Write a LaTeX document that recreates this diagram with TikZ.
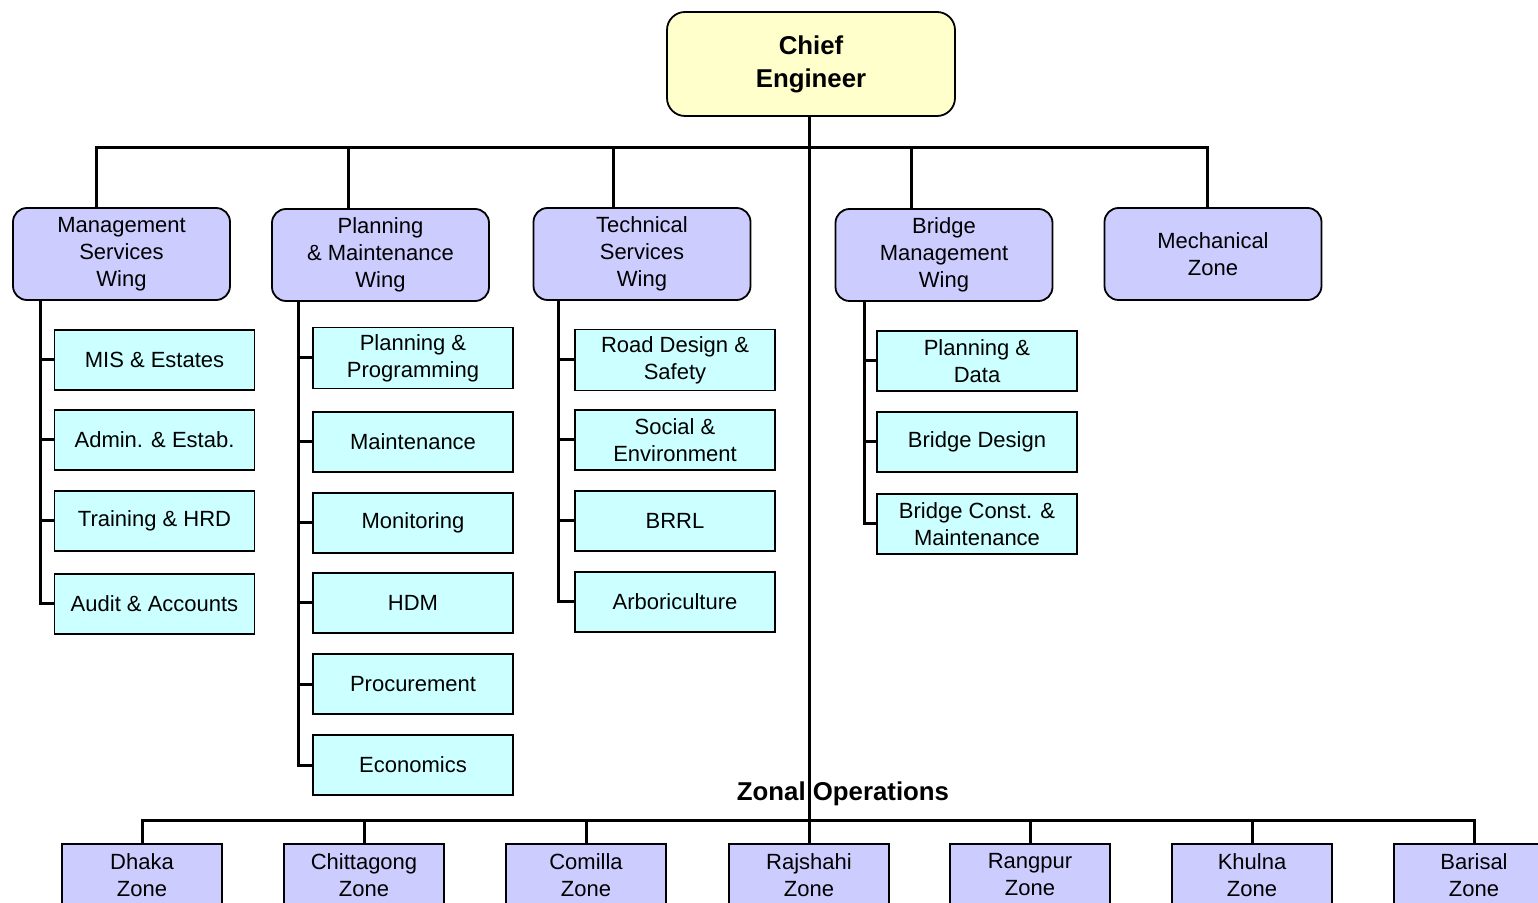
\documentclass[tikz,border=0pt]{standalone}
\usepackage{fontspec}
\setmainfont{Liberation Sans}
\usepackage{xcolor}
\usetikzlibrary{positioning, calc}

\definecolor{chieffill}{HTML}{FFFFCC}
\definecolor{wingfill}{HTML}{CCCCFF}
\definecolor{unitfill}{HTML}{CCFFFF}

\begin{document}
\begin{tikzpicture}[
  x = 0.5pt, y = -0.5pt,
  chief/.style = {draw=black, line width=0.9pt, rounded corners=9pt,
                  fill=chieffill, minimum width=144pt, minimum height=52pt,
                  align=center, font=\bfseries\fontsize{12.9}{16.5}\selectfont},
  wing/.style  = {draw=black, line width=0.9pt, rounded corners=7pt,
                  fill=wingfill, minimum width=108.5pt, minimum height=46pt,
                  align=center, font=\fontsize{11}{13.5}\selectfont},
  unit/.style  = {draw=black, line width=0.75pt, fill=unitfill,
                  minimum width=100pt, minimum height=30pt,
                  align=center, font=\fontsize{11}{13.5}\selectfont},
  zone/.style  = {draw=black, line width=0.75pt, fill=wingfill,
                  minimum width=80pt, minimum height=31pt,
                  align=center, font=\fontsize{11}{13.5}\selectfont},
  conn/.style  = {line width=1.5pt, black},
  heading/.style = {font=\bfseries\fontsize{12.9}{15}\selectfont}
]
\useasboundingbox (0,0) rectangle (1538,903);
\clip (0,0) rectangle (1538,903);

% ── Top ───────────────────────────────────────────────────────────────────────
\node[chief] (ce) at (811,64) {Chief\\Engineer};

% ── Wings ─────────────────────────────────────────────────────────────────────
\node[wing] (msw) at (121.5,254) {Management\\Services\\Wing};
\node[wing] (pmw) at (380.5,255) {Planning\\\& Maintenance\\Wing};
\node[wing] (tsw) at (642,254)   {Technical\\Services\\Wing};
\node[wing] (bmw) at (944,255)   {Bridge\\Management\\Wing};
\node[wing] (mz)  at (1213,254)  {Mechanical\\Zone};

% ── Units ─────────────────────────────────────────────────────────────────────
\foreach \n/\y/\t in {mis/360/{MIS \& Estates}, adm/440/{Admin. \& Estab.},
                      trn/521/{Training \& HRD}, aud/604/{Audit \& Accounts}}
  \node[unit] (\n) at (154.5,\y) {\t};

\foreach \n/\y/\t in {ppr/358/{Planning \&\\Programming}, mnt/442/Maintenance,
                      mon/523/Monitoring, hdm/603/HDM,
                      prc/684/Procurement, eco/765/Economics}
  \node[unit] (\n) at (413,\y) {\t};

\foreach \n/\y/\t in {rds/360/{Road Design \&\\Safety},
                      soc/440/{Social \&\\Environment},
                      brl/521/BRRL, arb/602/Arboriculture}
  \node[unit] (\n) at (675,\y) {\t};

\foreach \n/\y/\t in {pld/361/{Planning \&\\Data}, brd/442/{Bridge Design},
                      bcm/524/{Bridge Const. \&\\Maintenance}}
  \node[unit] (\n) at (977,\y) {\t};

% ── Zones ─────────────────────────────────────────────────────────────────────
\foreach \n/\x/\t in {dz/142/Dhaka, cz/364/Chittagong, kz/586/Comilla,
                      rj/809/Rajshahi, rz/1030/Rangpur, kh/1252/Khulna,
                      bz/1474/Barisal}
  \node[zone, anchor=north] (\n) at (\x,843) {\t\\Zone};

\node[heading] (zo) at (843,794) {Zonal Operations};

% ── Connectors ────────────────────────────────────────────────────────────────
\coordinate (bus)  at (809,148);
\coordinate (zbus) at (809,820);
\coordinate (msw-t) at ([xshift=-12.5pt]msw.north);
\coordinate (pmw-t) at ([xshift=-16pt]pmw.north);
\coordinate (tsw-t) at ([xshift=-14.5pt]tsw.north);
\coordinate (bmw-t) at ([xshift=-16.5pt]bmw.north);
\coordinate (mz-t)  at ([xshift=-3pt]mz.north);

\draw[conn] (ce.south -| rj.north) -- (rj.north);
\draw[conn] (msw-t) |- (bus) -| (mz-t);
\foreach \n in {pmw-t, tsw-t, bmw-t}
  \draw[conn] (\n) -- (\n |- bus);

\draw[conn] (dz.north) |- (zbus) -| (bz.north);
\foreach \n in {cz, kz, rz, kh}
  \draw[conn] (\n.north) -- (\n.north |- zbus);

% spines
\coordinate (s1) at ([xshift=14pt]msw.south west);
\coordinate (s2) at ([xshift=13.5pt]pmw.south west);
\coordinate (s3) at ([xshift=13pt]tsw.south west);
\coordinate (s4) at ([xshift=15pt]bmw.south west);

\draw[conn] (s1) |- (aud.west);
\foreach \n in {mis, adm, trn}
  \draw[conn] (\n.west) -- (\n.west -| s1);

\draw[conn] (s2) |- (eco.west);
\foreach \n in {ppr, mnt, mon, hdm, prc}
  \draw[conn] (\n.west) -- (\n.west -| s2);

\draw[conn] (s3) |- (arb.west);
\foreach \n in {rds, soc, brl}
  \draw[conn] (\n.west) -- (\n.west -| s3);

\draw[conn] (s4) |- (bcm.west);
\foreach \n in {pld, brd}
  \draw[conn] (\n.west) -- (\n.west -| s4);

\end{tikzpicture}
\end{document}
